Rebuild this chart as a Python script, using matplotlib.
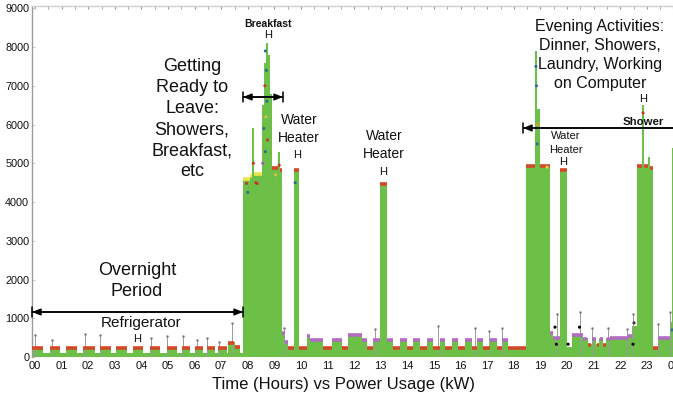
import matplotlib
matplotlib.use("Agg")
import matplotlib.pyplot as plt
from matplotlib.ticker import MultipleLocator

plt.rcParams['font.family'] = ['Liberation Sans', 'DejaVu Sans']

# ---------------- data (hours, watts) ----------------
seg_start = [-0.12, 0.30, 0.56, 0.94, 1.17, 1.58, 1.80, 2.26, 2.44, 2.86, 3.05, 3.46,
             3.68, 4.06, 4.32, 4.70, 4.96, 5.34, 5.53, 5.83, 6.02, 6.32, 6.47, 6.77,
             6.88, 7.22, 7.26, 7.50, 7.71,
             7.82, 8.08, 8.17, 8.24, 8.53, 8.61, 8.68, 8.76, 8.83, 8.91, 9.14, 9.21,
             9.29, 9.40, 9.51, 9.74, 9.92, 10.23, 10.34, 10.83, 11.17, 11.54, 11.77,
             12.29, 12.48, 12.71, 12.97, 13.23, 13.46, 13.72, 13.98, 14.21, 14.47,
             14.74, 14.96, 15.23, 15.41, 15.68, 15.90, 16.17, 16.43, 16.62, 16.84,
             17.11, 17.37, 17.56, 17.78,
             18.46, 18.80, 18.87, 18.98, 19.36, 19.47, 19.74, 20.00, 20.19, 20.60,
             20.78, 20.93, 21.10, 21.22, 21.36, 21.48, 21.62, 22.29, 22.44, 22.63,
             22.83, 22.90, 23.05, 23.12, 23.23, 23.42, 23.87, 23.95]
seg_end_last = 24.4
seg_power = [260, 110, 260, 110, 260, 110, 260, 110, 260, 110, 260, 110,
             260, 110, 260, 110, 260, 110, 260, 110, 260, 110, 260, 110,
             260, 110, 380, 290, 110,
             4620, 4700, 5900, 4750, 6500, 7600, 8100, 7800, 6800, 4900, 5300, 4850,
             650, 400, 250, 4850, 250, 560, 470, 250, 470, 250, 600,
             470, 250, 470, 4480, 470, 250, 470, 250, 470, 250,
             470, 250, 470, 250, 470, 250, 470, 250, 470, 250,
             470, 250, 470, 250,
             4950, 7900, 6400, 4950, 650, 500, 4850, 250, 600, 480,
             330, 480, 330, 480, 330, 480, 500, 550, 800, 4950,
             6500, 4950, 5150, 4900, 250, 520, 900, 5400]
seg_mark = ['r', '', 'r', '', 'r', '', 'r', '', 'r', '', 'r', '',
            'r', '', 'r', '', 'r', '', 'r', '', 'r', '', 'r', '',
            'r', '', 'r', 'r', '',
            'y', 'y', '', 'y', '', '', '', '', '', 'r', '', 'r',
            'p', 'p', 'r', 'r', 'r', 'p', 'p', 'r', 'p', 'r', 'p',
            'p', 'r', 'p', 'r', 'p', 'r', 'p', 'r', 'p', 'r',
            'p', 'r', 'p', 'r', 'p', 'r', 'p', 'r', 'p', 'r',
            'p', 'r', 'p', 'r',
            'r', '', '', 'r', 'p', 'p', 'r', '', 'p', 'p',
            'r', 'p', 'r', 'p', 'r', 'p', 'p', 'p', '', 'r',
            '', 'r', '', 'r', 'r', 'p', '', '']

spike_t = [0.0, 0.64, 1.88, 2.44, 4.36, 4.96, 5.56, 6.09, 6.47, 6.92, 7.41, 9.35,
           12.78, 15.15, 16.54, 17.07, 17.56, 19.62, 20.49, 20.94, 21.54, 22.26,
           22.48, 23.42, 23.87]
spike_w = [560, 430, 600, 560, 500, 550, 550, 430, 500, 380, 870, 760,
           730, 810, 760, 680, 760, 1120, 1150, 760, 760, 730,
           1120, 860, 1150]

dot_t = [8.66, 8.70, 8.64, 8.72, 8.68, 8.60, 8.74, 8.66, 8.56, 8.30, 8.35, 7.95,
         8.00, 9.05, 9.18, 9.78, 8.21, 18.83, 18.85, 18.90, 18.88, 19.25, 19.55,
         19.60, 20.04, 20.47, 22.48, 22.52, 22.86, 23.95]
dot_w = [7900, 7400, 7000, 6600, 6200, 5900, 5600, 5300, 5000, 4500, 4480, 4480,
         4250, 4700, 4950, 4500, 5000, 7500, 7000, 6000, 5500, 4900, 770,
         330, 330, 770, 330, 880, 6300, 700]
dot_c = ['#2a6f8f', '#2a6f8f', '#c0392b', '#2a6f8f', '#e0c040', '#2a6f8f',
         '#c0392b', '#2a6f8f', '#9b59b6', '#c0392b', '#c0392b', '#c0392b',
         '#2a6f8f', '#e0c040', '#c0392b', '#2a6f8f', '#c0392b', '#2a6f8f',
         '#2a6f8f', '#e0a030', '#2a6f8f', '#e0e040', 'k', 'k', 'k', 'k', 'k',
         '#333333', '#c0392b', '#2a6f8f']

x_ticks = list(range(25))
x_labels = ['%02d' % (h % 24) for h in x_ticks]
y_ticks = [0, 1000, 2000, 3000, 4000, 5000, 6000, 7000, 8000, 9000]

GREEN = '#6cbf47'
MARK_COLORS = {'r': '#d4482a', 'p': '#b26cc0', 'y': '#e8e84c'}

# ---------------- figure ----------------
W, H = 673, 401
fig = plt.figure(figsize=(W / 100, H / 100), dpi=100)
ax_left, ax_right, ax_top, ax_bot = 32, 700, 6, 357
ax = fig.add_axes([ax_left / W, 1 - ax_bot / H, (ax_right - ax_left) / W, (ax_bot - ax_top) / H])
ax.set_xlim(-0.113, (ax_right - 35) / 26.6)
ax.set_ylim(0, 9060)

edges = seg_start + [seg_end_last]
ax.stairs(seg_power, edges, fill=True, color=GREEN, baseline=0, lw=0)

for i, m in enumerate(seg_mark):
    if m:
        ax.hlines(seg_power[i] - 20, edges[i] + 0.01, edges[i + 1] - 0.01,
                  color=MARK_COLORS[m], lw=2.6, zorder=3)

ax.vlines(spike_t, 0, spike_w, color='#9a9a9a', lw=0.7, zorder=2)
ax.scatter(spike_t, spike_w, s=3, color='#777777', zorder=4, lw=0)
ax.scatter(dot_t, dot_w, s=5, c=dot_c, zorder=4, lw=0)

ax.set_xticks(x_ticks)
ax.set_xticklabels(x_labels, fontsize=8, color='#111111')
ax.xaxis.set_minor_locator(MultipleLocator(0.5))
ax.set_yticks(y_ticks)
ax.set_yticklabels([str(v) for v in y_ticks], fontsize=7.8, color='#111111')
ax.tick_params(axis='x', which='both', bottom=False, top=True, direction='in',
               length=2.5, color='#999999', pad=3)
ax.tick_params(axis='y', which='both', left=True, right=False, direction='in',
               length=2, color='#cccccc', pad=2)
for s in ['bottom', 'right']:
    ax.spines[s].set_visible(False)
ax.spines['top'].set_color('#cfcfcf')
ax.spines['left'].set_color('#9a9a9a')
ax.spines['top'].set_linewidth(1.0)
ax.spines['left'].set_linewidth(1.0)


def fx(px):
    return px / W


def fy(py):
    return 1 - py / H


def txt(px, py, s, size, weight='normal', ls=1.15):
    fig.text(fx(px), fy(py), s, fontsize=size, fontweight=weight, ha='center',
             va='center', linespacing=ls, color='#111111', multialignment='center')


def hbar(px, py):
    txt(px, py, 'H', 8)


def arrow(px0, px1, py):
    ax.annotate('', xy=(fx(px1), fy(py)), xytext=(fx(px0), fy(py)),
                xycoords='figure fraction', textcoords='figure fraction',
                arrowprops=dict(arrowstyle='<|-|>,head_length=0.5,head_width=0.2',
                                lw=1.1, color='black', shrinkA=0, shrinkB=0,
                                mutation_scale=10))
    ax.annotate('', xy=(fx(px1), fy(py)), xytext=(fx(px0), fy(py)),
                xycoords='figure fraction', textcoords='figure fraction',
                arrowprops=dict(arrowstyle='|-|,widthA=0.35,widthB=0.35',
                                lw=1.1, color='black', shrinkA=0, shrinkB=0,
                                mutation_scale=10))


txt(192, 119, 'Getting\nReady to\nLeave:\nShowers,\nBreakfast,\netc', 13, ls=1.32)
arrow(243, 283, 97)
txt(268, 24, 'Breakfast', 7.5, 'bold')
hbar(268, 35)
txt(299, 129, 'Water\nHeater', 10, ls=1.4)
hbar(297, 155)
txt(384, 145, 'Water\nHeater', 10, ls=1.4)
hbar(383, 172)
txt(137, 281, 'Overnight\nPeriod', 13, ls=1.27)
arrow(32, 243, 312)
txt(141, 323, 'Refrigerator', 11)
hbar(137, 339)
txt(600, 55, 'Evening Activities:\nDinner, Showers,\nLaundry, Working\non Computer', 11.5, ls=1.34)
arrow(523, 700, 128)
txt(566, 143, 'Water\nHeater', 8, ls=1.45)
hbar(563, 162)
txt(643, 122, 'Shower', 8.2, 'bold')
hbar(643, 99)

txt(343, 384, 'Time (Hours) vs Power Usage (kW)', 12)

fig.savefig('out.png', dpi=100)
